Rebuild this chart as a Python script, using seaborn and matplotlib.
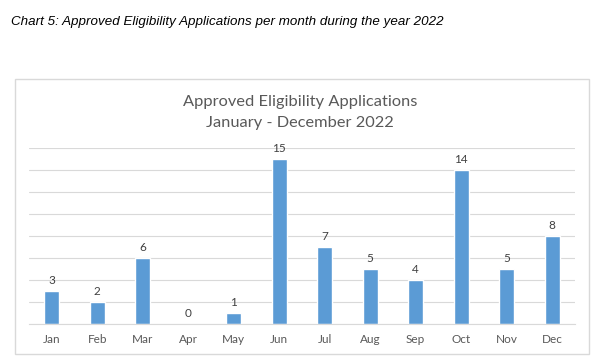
import numpy as np
import matplotlib
matplotlib.use("Agg")
import matplotlib.pyplot as plt
import seaborn as sns
from matplotlib.patches import Rectangle

months = ["Jan", "Feb", "Mar", "Apr", "May", "Jun",
          "Jul", "Aug", "Sep", "Oct", "Nov", "Dec"]
approved = [3, 2, 6, 0, 1, 15, 7, 5, 4, 14, 5, 8]

caption = "Chart 5: Approved Eligibility Applications per month during the year 2022"
title_lines = ["Approved Eligibility Applications", "January - December 2022"]

sns.set_style("white")
plt.rcParams['font.family'] = ['Lato', 'DejaVu Sans']

fig = plt.figure(figsize=(6, 3.61), dpi=100)
ax = fig.add_axes([0.0483, 0.1016, 0.9100, 0.4875])

sns.barplot(x=months, y=approved, color="#5B9BD5", width=0.33,
            saturation=1, ax=ax)

ax.set_xlim(-0.5, 11.5)
ax.set_ylim(0, 16)
ax.set_yticks(np.arange(0, 17, 2))
ax.set_yticklabels([])
ax.tick_params(axis='y', length=0)
ax.grid(axis='y', color="#D9D9D9", linewidth=0.8)
ax.set_axisbelow(True)
for side in ["left", "right", "top"]:
    ax.spines[side].set_visible(False)
ax.spines["bottom"].set_color("#D9D9D9")
ax.spines["bottom"].set_linewidth(0.8)

ax.set_xticks(np.arange(-0.5, 12, 1), minor=True)
ax.tick_params(axis='x', which='minor', length=3, color="#D9D9D9", width=0.8)
ax.tick_params(axis='x', which='major', length=0, pad=7,
               labelsize=8.5, labelcolor="#595959")

for i, v in enumerate(approved):
    ax.annotate(str(v), (i, v), xytext=(0, 4), textcoords="offset points",
                ha="center", va="bottom", fontsize=8.5, color="#404040")

# chart title, two lines
fig.text(0.5, 0.7183, title_lines[0], ha="center", va="center",
         fontsize=11.8, color="#595959")
fig.text(0.5, 0.660, title_lines[1], ha="center", va="center",
         fontsize=11.8, color="#595959")

fig.patches.append(Rectangle((0.025, 0.0194), 0.956, 0.7606,
                             transform=fig.transFigure, fill=False,
                             edgecolor="#D9D9D9", linewidth=1))

fig.text(0.018, 0.94, caption, ha="left", va="center", fontsize=9.6,
         style="italic", family=["Liberation Sans", "DejaVu Sans"],
         color="black")

fig.savefig("out.png", dpi=100)
